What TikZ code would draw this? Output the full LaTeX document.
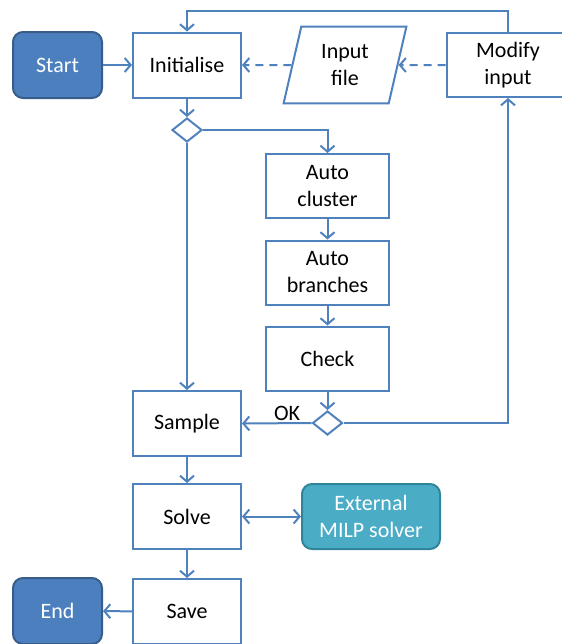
\documentclass[tikz,border=0pt]{standalone}
\usepackage{fontspec}
\setmainfont{Carlito}
\usetikzlibrary{shapes.geometric,arrows.meta}
\definecolor{flowblue}{RGB}{79,129,189}
\definecolor{termfill}{RGB}{76,127,190}
\definecolor{termline}{RGB}{56,93,138}
\definecolor{milpfill}{RGB}{75,172,198}
\definecolor{milpline}{RGB}{49,133,155}
\begin{document}
\begin{tikzpicture}[x=5pt, y=-5pt, line width=1pt, font=\fontsize{11}{13.5}\selectfont,
  box/.style={draw=flowblue, fill=white, align=center, minimum width=54pt, minimum height=32.5pt, inner sep=1pt},
  widebox/.style={box, minimum width=61.5pt, minimum height=32pt},
  term/.style={draw=termline, fill=termfill, text=white, rounded corners=5pt, minimum width=44.5pt, minimum height=33pt},
  io/.style={trapezium, trapezium left angle=77, trapezium right angle=103, draw=flowblue, fill=white, align=center, minimum width=61.5pt, minimum height=32.5pt, inner sep=1pt},
  choice/.style={diamond, draw=flowblue, fill=white, minimum width=15pt, minimum height=12pt, inner sep=0pt},
  flow/.style={draw=flowblue, -{Straight Barb[length=3pt,width=7pt]}},
  feed/.style={flow, dash pattern=on 4pt off 3pt}]
\useasboundingbox (0,0) rectangle (56.2,64.4);

% Top row
\node[term] (start) at (5.75,6.5) {Start};
\node[box] (init) at (18.7,6.5) {Initialise};
\node[io] (infile) at (34.5,6.5) {Input\\file};
\node[widebox] (modify) at (50.8,6.5) {Modify\\input};

% Automatic preprocessing
\node[choice] (dec1) at (18.7,13) {};
\node[widebox] (clust) at (32.75,18.6) {Auto\\cluster};
\node[widebox] (branch) at (32.75,27.25) {Auto\\branches};
\node[widebox] (check) at (32.75,35.85) {Check};
\node[choice] (dec2) at (32.75,42.3) {};

% Main column
\node[box] (sample) at (18.7,42.35) {Sample};
\node[box] (solve) at (18.7,51.65) {Solve};
\node[box] (save) at (18.7,61.15) {Save};
\node[term] (stop) at (5.75,61.1) {End};
\node[term, draw=milpline, fill=milpfill, minimum width=69pt, minimum height=32.5pt, align=center] (milp) at (37.1,51.65) {External\\MILP solver};

% Connections
\coordinate (loop) at (50.8,1.1);
\draw[flow] (start) -- (init);
\draw[feed] (modify) -- (infile);
\draw[feed] (infile) -- (init);
\draw[flow] (modify.north) -- (loop) -| (init.north);
\draw[flow] (init) -- (dec1);
\draw[flow] (dec1.east) -| (clust.north);
\draw[flow] (dec1.south) -- (sample.north);
\draw[flow] (clust) -- (branch);
\draw[flow] (branch) -- (check);
\draw[flow] (check) -- (dec2);
\draw[flow] (dec2.west) -- node[above, pos=0.35, inner sep=1pt]{OK} (sample.east);
\draw[flow] (dec2.east) -| (modify.south);
\draw[flow] (sample) -- (solve);
\draw[flow] (solve) -- (save);
\draw[flow, {Straight Barb[length=3pt,width=7pt]}-{Straight Barb[length=3pt,width=7pt]}] (solve) -- (milp);
\draw[flow] (save) -- (stop);
\end{tikzpicture}
\end{document}
